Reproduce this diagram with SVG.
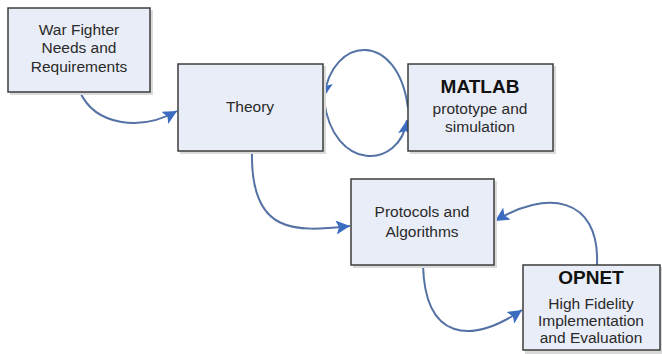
<svg xmlns="http://www.w3.org/2000/svg" width="662" height="354" viewBox="0 0 662 354">
<style>
.box{fill:#e9edf7;stroke:#3c3c3c;stroke-width:1.5}
.shadow{fill:#dadada}
.t{font-family:"Liberation Sans",Arial,sans-serif;font-size:15.5px;fill:#2a2a2a;text-anchor:middle}
.b{font-family:"Liberation Sans",Arial,sans-serif;font-weight:bold;font-size:19px;fill:#111;text-anchor:middle}
.c{fill:none;stroke:#5472a4;stroke-width:2}
</style>
<defs>
<marker id="ah2" markerWidth="16" markerHeight="14" refX="14" refY="7" orient="auto" markerUnits="userSpaceOnUse">
<path d="M0,0 L14,7 L0,14 L3,7 Z" fill="#3a6cc0"/>
</marker>
</defs>
<g id="connectors">
<path class="c" d="M80,92 C95,125 140,132 177,111" marker-end="url(#ah2)"/>
<path class="c" d="M408,108 C398,30 332,35 324,97" marker-end="url(#ah2)"/>
<path class="c" d="M324,100 C333,172 400,170 407,120" marker-end="url(#ah2)"/>
<path class="c" d="M252,151 C250,235 295,232 350,226" marker-end="url(#ah2)"/>
<path class="c" d="M423,265 C425,340 470,345 522,310" marker-end="url(#ah2)"/>
<path class="c" d="M597,265 C600,195 545,190 495,221" marker-end="url(#ah2)"/>
</g>
<g id="war-fighter">
<rect class="shadow" x="10" y="10" width="143" height="85"/>
<rect class="box" x="8" y="8" width="142" height="84"/>
<text class="t" x="79" y="35">War Fighter</text>
<text class="t" x="79" y="53">Needs and</text>
<text class="t" x="79" y="72">Requirements</text>
</g>
<g id="theory">
<rect class="shadow" x="180" y="66" width="146" height="88"/>
<rect class="box" x="178" y="64" width="145" height="87"/>
<text class="t" x="250" y="112">Theory</text>
</g>
<g id="matlab">
<rect class="shadow" x="410" y="66" width="146" height="88"/>
<rect class="box" x="408" y="64" width="145" height="87"/>
<text class="b" x="480" y="93">MATLAB</text>
<text class="t" x="480" y="114">prototype and</text>
<text class="t" x="480" y="132">simulation</text>
</g>
<g id="protocols">
<rect class="shadow" x="353" y="181" width="144" height="87"/>
<rect class="box" x="351" y="179" width="143" height="86"/>
<text class="t" x="422" y="217">Protocols and</text>
<text class="t" x="422" y="237">Algorithms</text>
</g>
<g id="opnet">
<rect class="shadow" x="525" y="267" width="137" height="87"/>
<rect class="box" x="523" y="265" width="137" height="85"/>
<text class="b" x="591" y="284">OPNET</text>
<text class="t" x="591" y="309">High Fidelity</text>
<text class="t" x="591" y="326">Implementation</text>
<text class="t" x="591" y="343">and Evaluation</text>
</g>
</svg>
